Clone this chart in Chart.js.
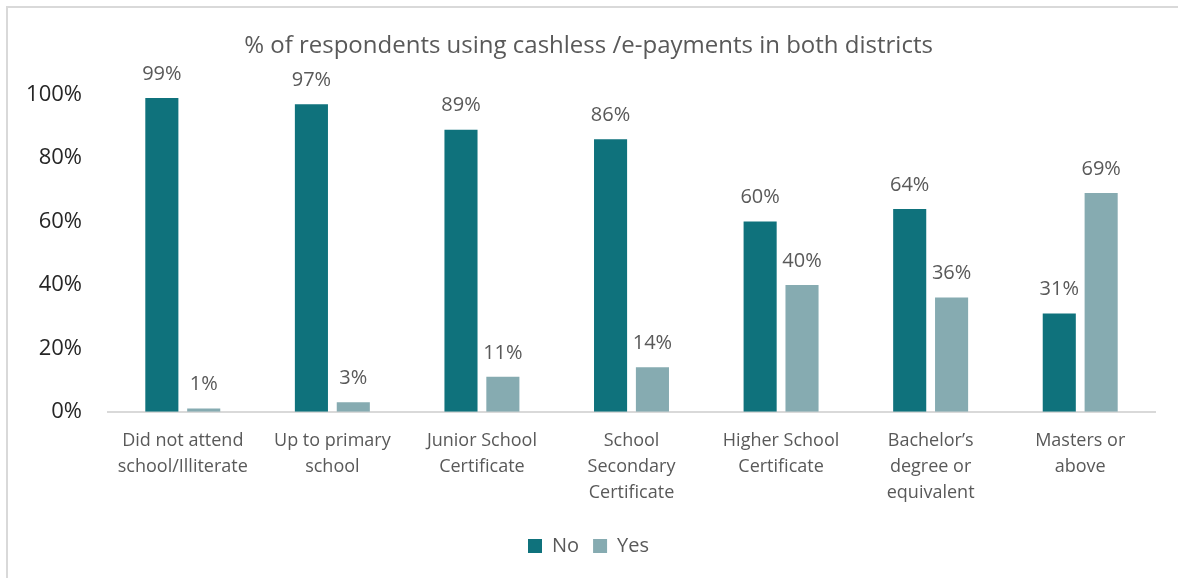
<!DOCTYPE html>
<html>
<head>
<meta charset="utf-8">
<title>Cashless payments by education</title>
<script src="https://cdn.jsdelivr.net/npm/chart.js@4"></script>
<style>
  html, body { margin: 0; padding: 0; background: #fff; overflow: hidden; }
  .frame {
    position: absolute; left: 6px; top: 6px; width: 1180px; height: 580px;
    border: 2px solid #d9d9d9; box-sizing: border-box;
  }
  .wrap { position: absolute; left: 0; top: 0; width: 1178px; height: 578px; }
</style>
</head>
<body>
<div class="frame"></div>
<div class="wrap"><canvas id="chart"></canvas></div>
<script>
// Education levels (x axis)
const categories = [
  ['Did not attend', 'school/Illiterate'],
  ['Up to primary', 'school'],
  ['Junior School', 'Certificate'],
  ['School', 'Secondary', 'Certificate'],
  ['Higher School', 'Certificate'],
  ['Bachelor\u2019s', 'degree or', 'equivalent'],
  ['Masters or', 'above']
];

// Share of respondents (%)
const noValues = [99, 97, 89, 86, 60, 64, 31];
const yesValues = [1, 3, 11, 14, 40, 36, 69];

const yTicks = [0, 20, 40, 60, 80, 100];

const FONT = "'Open Sans', sans-serif";

// Writes the value above each bar
const barLabels = {
  id: 'barLabels',
  afterDatasetsDraw(chart) {
    const ctx = chart.ctx;
    ctx.save();
    ctx.font = `20px ${FONT}`;
    ctx.fillStyle = '#595959';
    ctx.textAlign = 'center';
    ctx.textBaseline = 'bottom';
    chart.data.datasets.forEach((ds, i) => {
      chart.getDatasetMeta(i).data.forEach((bar, j) => {
        ctx.fillText(ds.data[j] + '%', bar.x, bar.y - 14);
      });
    });
    ctx.restore();
  }
};

new Chart(document.getElementById('chart'), {
  type: 'bar',
  data: {
    labels: categories,
    datasets: [
      { label: 'No', data: noValues, backgroundColor: '#0f727c' },
      { label: 'Yes', data: yesValues, backgroundColor: '#86abb1' }
    ]
  },
  options: {
    responsive: true,
    maintainAspectRatio: false,
    animation: false,
    categoryPercentage: 0.56,
    barPercentage: 0.79,
    layout: { padding: { top: 18, left: 22, right: 23, bottom: 12 } },
    plugins: {
      title: {
        display: true,
        text: '% of respondents using cashless /e-payments in both districts',
        color: '#595959',
        font: { family: FONT, size: 24, weight: 'normal' },
        padding: { top: 14, bottom: 34 }
      },
      legend: {
        position: 'bottom',
        labels: {
          boxWidth: 14,
          boxHeight: 14,
          color: '#595959',
          font: { family: FONT, size: 20 },
          padding: 14
        }
      },
      tooltip: { enabled: false }
    },
    scales: {
      x: {
        grid: { display: false },
        border: { color: '#d9d9d9', width: 2 },
        ticks: {
          color: '#595959',
          font: { family: FONT, size: 18, lineHeight: 1.45 },
          maxRotation: 0,
          padding: 8
        },
        // extra room between the labels and the legend
        afterFit(axis) {
          axis.height += 8;
        }
      },
      y: {
        min: 0,
        max: 100,
        grid: { display: false },
        border: { display: false },
        afterBuildTicks(axis) {
          axis.ticks = yTicks.map(v => ({ value: v }));
        },
        afterFit(axis) {
          axis.width = 86;
        },
        ticks: {
          color: '#262626',
          font: { family: FONT, size: 22 },
          padding: 18,
          callback: v => v + '%'
        }
      }
    }
  },
  plugins: [barLabels]
});
</script>
</body>
</html>
